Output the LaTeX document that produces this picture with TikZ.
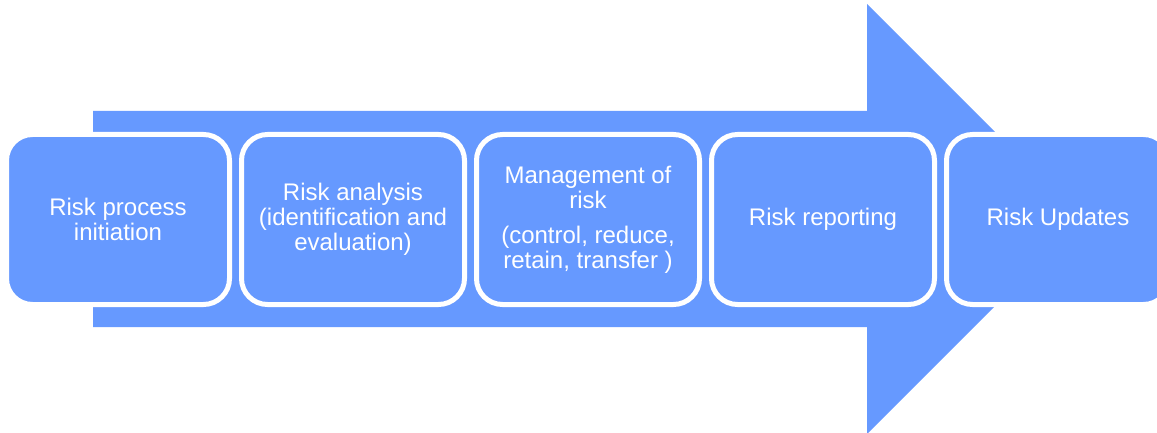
\documentclass[tikz,border=0pt]{standalone}
\usepackage{fontspec}
\setmainfont{Liberation Sans}
\definecolor{riskblue}{RGB}{102,153,255}

\begin{document}
\begin{tikzpicture}[x=1pt,y=-1pt]
	\tikzset{stage/.style={draw=white,line width=5pt,fill=riskblue,rounded corners=26pt,
	    minimum width=223pt,minimum height=170pt,inner sep=0pt,text=white,align=center,
	    font=\fontsize{24}{25}\selectfont}}

	    \useasboundingbox (0,0) rectangle (1157,433);
	    \clip (0,0) rectangle (1157,433);

	    % big arrow behind the stages
	    \fill[riskblue] (93,111) -- (867,111) -- (867,4) -- (1082,219)
	        -- (867,434) -- (867,327) -- (93,327) -- cycle;

	    \node[stage] (init) at (118,219.5) {Risk process\\initiation};
	    \node[stage] (analysis) at (353,219.5) {Risk analysis\\(identification and\\evaluation)};
	    \node[stage] (mgmt) at (588,219.5) {Management of\\risk\\[10pt](control, reduce,\\retain, transfer )};
	    \node[stage] (report) at (823,219.5) {Risk reporting};
	    \node[stage] (updates) at (1058,219.5) {Risk Updates};

\end{tikzpicture}
\end{document}
